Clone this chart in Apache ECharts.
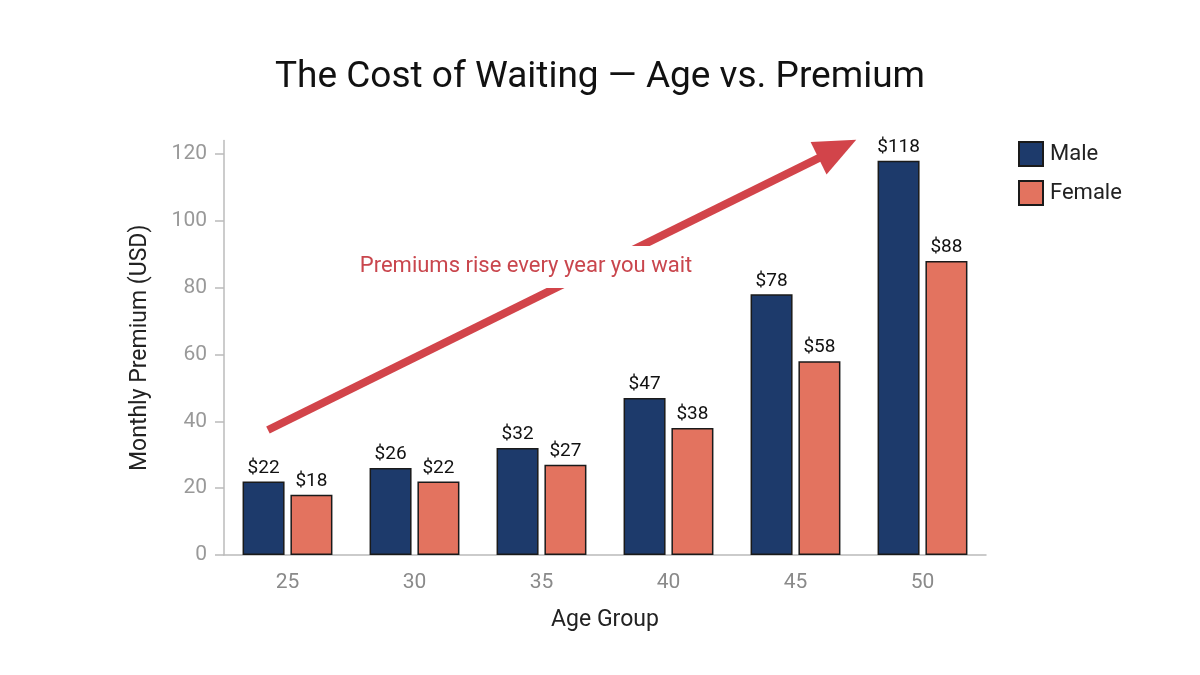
<!DOCTYPE html>
<html>
<head>
<meta charset="utf-8">
<script src="https://cdn.jsdelivr.net/npm/echarts@6/dist/echarts.min.js"></script>
<style>html,body{margin:0;padding:0;background:#fff}#c{width:1200px;height:675px}</style>
</head>
<body>
<div id="c"></div>
<script>
const categories = ['25', '30', '35', '40', '45', '50'];
const maleValues = [22, 26, 32, 47, 78, 118];
const femaleValues = [18, 22, 27, 38, 58, 88];
const yTickValues = [0, 20, 40, 60, 80, 100, 120];
// annotation arrow, in (category-position, value) units; category i centre = i + 0.5
const arrowStart = [0.346, 37.4];
const arrowEnd = [4.83, 121.5];
const noteText = 'Premiums rise every year you wait';
const notePos = [2.378, 86.2];

const FONT = 'Roboto';
const chart = echarts.init(document.getElementById('c'));
chart.setOption({
  backgroundColor: '#ffffff',
  animation: false,
  textStyle: { fontFamily: FONT },
  title: {
    text: 'The Cost of Waiting — Age vs. Premium',
    left: 'center', top: 54,
    textStyle: { fontFamily: FONT, fontSize: 37, fontWeight: 'normal', color: '#111' }
  },
  legend: {
    orient: 'vertical', left: 1018, top: 141, padding: 0,
    itemWidth: 24, itemHeight: 24, itemGap: 13,
    icon: 'rect',
    data: ['Male', 'Female'],
    textStyle: { fontFamily: FONT, fontSize: 22, color: '#222', padding: [0, 0, 0, 2] }
  },
  grid: { left: 224, right: 214, top: 140.6, bottom: 120, containLabel: false },
  xAxis: [{
    type: 'category', data: categories,
    name: 'Age Group', nameLocation: 'middle', nameGap: 54,
    nameTextStyle: { fontFamily: FONT, fontSize: 23, color: '#222' },
    axisLine: { lineStyle: { color: '#bbb', width: 1.5 } },
    axisTick: { alignWithLabel: true, length: 9, lineStyle: { color: '#bbb', width: 1.5 } },
    axisLabel: { fontFamily: FONT, fontSize: 21, color: '#8a8a8a', margin: 17 }
  }, {
    type: 'value', min: 0, max: 6, show: false, gridIndex: 0
  }],
  yAxis: {
    type: 'value', min: 0, max: 124,
    name: 'Monthly Premium (USD)', nameLocation: 'middle', nameGap: 72,
    nameTextStyle: { fontFamily: FONT, fontSize: 23, color: '#222' },
    axisLine: { show: true, lineStyle: { color: '#bbb', width: 1.5 } },
    axisTick: { show: true, length: 9, customValues: yTickValues, lineStyle: { color: '#bbb', width: 1.5 } },
    axisLabel: { fontFamily: FONT, fontSize: 21, color: '#999', margin: 17, customValues: yTickValues },
    splitLine: { show: false }
  },
  series: [{
    name: 'Male', type: 'bar', data: maleValues,
    barWidth: 42, barGap: '14%',
    itemStyle: { color: '#1d3a6b', borderColor: '#1a1a1a', borderWidth: 1.5 },
    label: { show: true, position: 'top', distance: 4, formatter: p => '$' + p.value,
      fontFamily: FONT, fontSize: 19, color: '#111' }
  }, {
    name: 'Female', type: 'bar', data: femaleValues,
    barWidth: 42,
    itemStyle: { color: '#e3735f', borderColor: '#1a1a1a', borderWidth: 1.5 },
    label: { show: true, position: 'top', distance: 4, formatter: p => '$' + p.value,
      fontFamily: FONT, fontSize: 19, color: '#111' }
  }, {
    name: 'arrow', type: 'line', xAxisIndex: 1, yAxisIndex: 0, data: [], z: 5,
    silent: true,
    markLine: {
      silent: true, animation: false,
      symbol: ['none', 'triangle'], symbolSize: [36, 42],
      lineStyle: { color: '#d2444a', width: 8, type: 'solid' },
      label: { show: false },
      data: [[{ coord: arrowStart }, { coord: arrowEnd }]]
    }
  }, {
    name: 'note', type: 'line', xAxisIndex: 1, yAxisIndex: 0, data: [], z: 6,
    silent: true,
    markPoint: {
      silent: true, animation: false,
      symbol: 'rect', symbolSize: 0,
      itemStyle: { color: 'rgba(0,0,0,0)' },
      label: { show: true, position: 'inside', formatter: noteText,
        fontFamily: FONT, fontSize: 22, color: '#c9464d',
        backgroundColor: '#ffffff', padding: [10, 4] },
      data: [{ coord: notePos }]
    }
  }]
});
</script>
</body>
</html>
